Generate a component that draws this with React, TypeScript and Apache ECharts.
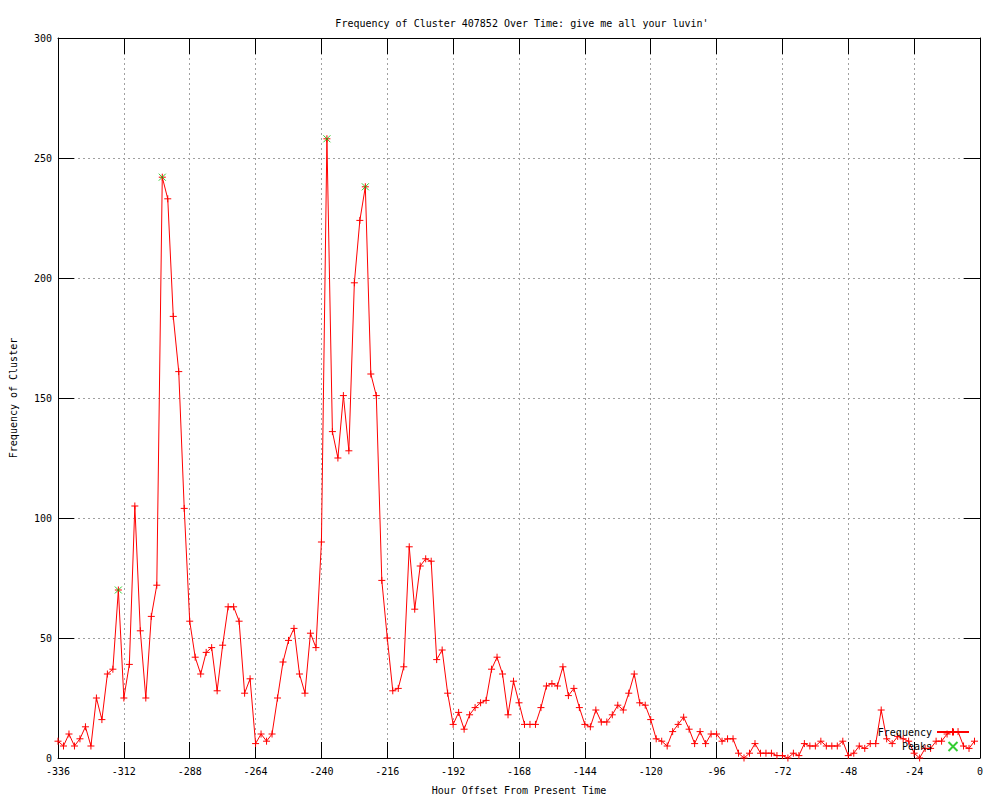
import React, { useEffect, useRef } from "react";
import * as echarts from "echarts";

const TITLE = "Frequency of Cluster 407852 Over Time: give me all your luvin'";
const X_NAME = "Hour Offset From Present Time";
const Y_NAME = "Frequency of Cluster";

const X_MIN = -336;
const X_MAX = 0;
const X_STEP = 24;
const Y_MIN = 0;
const Y_MAX = 300;
const Y_STEP = 50;

// hourly offsets: one sample every 2 hours starting at -336
const START_HOUR = -336;
const HOUR_STEP = 2;

const frequency = [
  7, 5, 10, 5, 8, 13, 5, 25, 16, 35, 37, 70, 25, 39, 105, 53, 25, 59, 72, 242,
  233, 184, 161, 104, 57, 42, 35, 44, 46, 28, 47, 63, 63, 57, 27, 33, 6, 10, 7, 10,
  25, 40, 49, 54, 35, 27, 52, 46, 90, 258, 136, 125, 151, 128, 198, 224, 238, 160, 151, 74,
  50, 28, 29, 38, 88, 62, 80, 83, 82, 41, 45, 27, 14, 19, 12, 18, 21, 23, 24, 37,
  42, 35, 18, 32, 23, 14, 14, 14, 21, 30, 31, 30, 38, 26, 29, 21, 14, 13, 20, 15,
  15, 18, 22, 20, 27, 35, 23, 22, 16, 8, 7, 5, 11, 14, 17, 12, 6, 11, 6, 10,
  10, 7, 8, 8, 2, 0, 2, 6, 2, 2, 2, 1, 1, 0, 2, 1, 6, 5, 5, 7,
  5, 5, 5, 7, 1, 2, 5, 4, 6, 6, 20, 8, 6, 9, 8, 7, 2, 0, 4, 4,
  7, 7, 10, 11, 11, 5, 4, 7,
];

const peakHours = [-314, -298, -238, -224];
const peakValues = [70, 242, 258, 238];

const FONT = "'DejaVu Sans Mono', 'Liberation Mono', monospace";
const PLUS = "path://M0,5L10,5M5,0L5,10";
const CROSS = "path://M0,0L10,10M10,0L0,10";

const textStyle = () => ({ fontFamily: FONT, fontSize: 10, color: "#000" });
const borderLine = () => ({ show: true, onZero: false, lineStyle: { color: "#000", width: 1 } });
const ticks = () => ({
  show: true,
  inside: true,
  length: 16,
  lineStyle: { color: "#000", width: 1 },
});

const xRange = () => ({ type: "value", min: X_MIN, max: X_MAX, interval: X_STEP });
const yRange = () => ({ type: "value", min: Y_MIN, max: Y_MAX, interval: Y_STEP });

// an invisible axis used only to draw the dotted grid beneath the tick marks
const gridOnly = (position: string) => ({
  position,
  z: 0,
  axisLine: { show: false, onZero: false },
  axisTick: { show: false },
  axisLabel: { show: false },
  splitLine: {
    show: true,
    lineStyle: { color: "#a0a0a0", type: [2, 3], width: 1 },
  },
});

// mirrored tick axis (no labels)
const mirror = (position: string) => ({
  position,
  z: 1,
  axisLine: borderLine(),
  axisTick: ticks(),
  axisLabel: { show: false },
  splitLine: { show: false },
});

export default function App() {
  const ref = useRef<HTMLDivElement>(null);

  useEffect(() => {
    document.body.style.margin = "0";
    if (!ref.current) return;
    const chart = echarts.init(ref.current, undefined, { renderer: "svg" });
    const hours = frequency.map((_, i) => START_HOUR + i * HOUR_STEP);
    const freqData = hours.map((h, i) => [h, frequency[i]]);
    const peakData = peakHours.map((h, i) => [h, peakValues[i]]);

    chart.setOption({
      animation: false,
      backgroundColor: "#fff",
      title: {
        text: TITLE,
        left: 517,
        textAlign: "center",
        top: 13,
        textStyle: { ...textStyle(), fontWeight: "normal" },
      },
      legend: {
        orient: "vertical",
        right: 25,
        top: 722,
        align: "right",
        itemGap: 4,
        itemWidth: 32,
        itemHeight: 9,
        textStyle: textStyle(),
        data: ["Frequency", "Peaks"],
      },
      grid: { left: 55, right: 20, top: 38, bottom: 40 },
      xAxis: [
        {
          ...xRange(),
          position: "bottom",
          z: 1,
          name: X_NAME,
          nameLocation: "middle",
          nameGap: 27,
          nameTextStyle: textStyle(),
          axisLine: borderLine(),
          axisTick: ticks(),
          axisLabel: { ...textStyle(), margin: 8 },
          splitLine: { show: false },
        },
        { ...xRange(), ...mirror("top") },
        { ...xRange(), ...gridOnly("bottom") },
      ],
      yAxis: [
        {
          ...yRange(),
          position: "left",
          z: 1,
          name: Y_NAME,
          nameLocation: "middle",
          nameGap: 40,
          nameRotate: 90,
          nameTextStyle: textStyle(),
          axisLine: borderLine(),
          axisTick: ticks(),
          axisLabel: { ...textStyle(), margin: 6 },
          splitLine: { show: false },
        },
        { ...yRange(), ...mirror("right") },
        { ...yRange(), ...gridOnly("left") },
      ],
      series: [
        {
          name: "Frequency",
          type: "line",
          data: freqData,
          xAxisIndex: 0,
          yAxisIndex: 0,
          symbol: PLUS,
          symbolSize: 7,
          showAllSymbol: true,
          lineStyle: { color: "#ff0000", width: 1 },
          itemStyle: { color: "#ff0000", borderColor: "#ff0000", borderWidth: 1 },
        },
        {
          name: "Peaks",
          type: "scatter",
          data: peakData,
          xAxisIndex: 0,
          yAxisIndex: 0,
          symbol: CROSS,
          symbolSize: 7,
          itemStyle: { color: "#00c000", borderColor: "#00c000", borderWidth: 1 },
          z: 3,
        },
      ],
    });
    return () => chart.dispose();
  }, []);

  return <div ref={ref} style={{ width: 1000, height: 800 }} />;
}
